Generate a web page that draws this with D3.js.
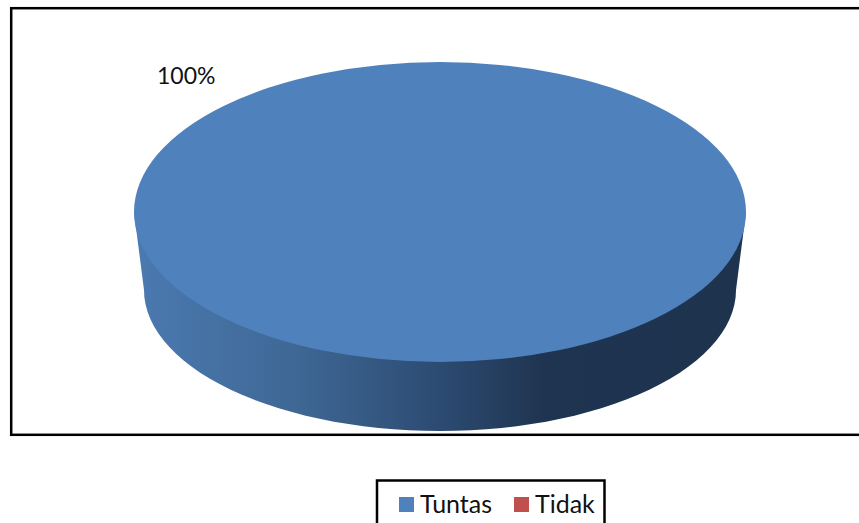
<!DOCTYPE html>
<html>
<head>
<meta charset="utf-8">
<title>Tuntas / Tidak</title>
<script src="https://d3js.org/d3.v7.min.js"></script>
<style>
html, body { margin: 0; padding: 0; background: #fff; overflow: hidden; }
svg { display: block; }
text { font-family: Lato, "Open Sans", sans-serif; fill: #111; }
</style>
</head>
<body>
<div id="plot"></div>
<script>
var categories = ["Tuntas", "Tidak"];
var values = [100, 0];
var colors = ["#4f81bd", "#c0504d"];

var width = 859;
var height = 523;

var svg = d3.select("#plot").append("svg")
	.attr("width", width).attr("height", height);

// chart frame, runs off the right side of the picture
svg.append("rect")
	.attr("x", 11.2).attr("y", 8.2)
	.attr("width", 900).attr("height", 426.6)
	.attr("fill", "#fff").attr("stroke", "#000").attr("stroke-width", 2.5);

// pie shape
var cx = 440, cy = 212, rx = 306, ry = 150;
var bottomCy = 290, bottomRx = 296, bottomRy = 141;

var defs = svg.append("defs");
var grad = defs.append("linearGradient").attr("id", "side")
	.attr("x1", "0").attr("x2", "1").attr("y1", "0").attr("y2", "0");
[["0%", "#4b7ab1"], ["27%", "#3e6794"], ["50%", "#2c4b72"], ["67%", "#1f3450"], ["100%", "#1e334e"]]
	.forEach(function (s) {
		grad.append("stop").attr("offset", s[0]).attr("stop-color", s[1]);
	});

var pie = d3.pie().sort(null);
var slices = pie(values);
var total = d3.sum(values);

// side wall follows the lower half of the bottom ellipse
var wallAngles = d3.range(0, 181, 3).map(function (d) { return d * Math.PI / 180; });
var wallPoints = [[cx + rx, cy]]
	.concat(wallAngles.map(function (a) {
		return [cx + bottomRx * Math.cos(a), bottomCy + bottomRy * Math.sin(a)];
	}))
	.concat([[cx - rx, cy]]);

svg.append("path")
	.attr("d", d3.line()(wallPoints) + "Z")
	.attr("fill", "url(#side)");

// top face
var arc = d3.arc().innerRadius(0).outerRadius(rx);
svg.append("g")
	.attr("transform", "translate(" + cx + "," + cy + ") scale(1," + (ry / rx) + ")")
	.selectAll("path").data(slices).enter()
	.append("path")
	.attr("d", arc)
	.attr("fill", function (d, i) { return colors[i]; });

// data label
svg.append("text")
	.attr("x", 157).attr("y", 84)
	.attr("font-size", 23)
	.text(d3.format(".0%")(values[0] / total));

// legend, cut off by the bottom of the picture
svg.append("rect")
	.attr("x", 377).attr("y", 480.5)
	.attr("width", 227.5).attr("height", 60)
	.attr("fill", "#fff").attr("stroke", "#000").attr("stroke-width", 2.5);

var legendX = [399, 514];
var legend = svg.selectAll("g.legend").data(categories).enter()
	.append("g").attr("class", "legend")
	.attr("transform", function (d, i) { return "translate(" + legendX[i] + ",497)"; });
legend.append("rect")
	.attr("width", 15).attr("height", 15)
	.attr("fill", function (d, i) { return colors[i]; });
legend.append("text")
	.attr("x", 21).attr("y", 15.5)
	.attr("font-size", 25)
	.text(function (d) { return d; });
</script>
</body>
</html>
